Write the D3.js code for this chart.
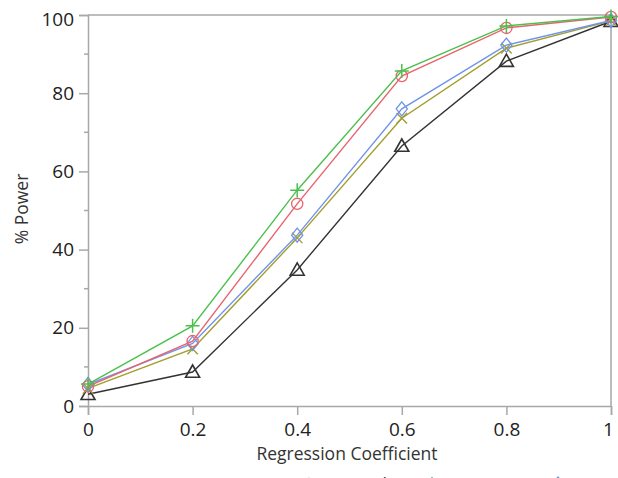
<!DOCTYPE html>
<html>
<head>
<meta charset="utf-8">
<script src="https://cdn.jsdelivr.net/npm/d3@7"></script>
<style>
  body { margin: 0; background: #fff; overflow: hidden; }
  text { font-family: "Open Sans", "Noto Sans", sans-serif; }
</style>
</head>
<body>
<svg id="chart" width="618" height="478"></svg>
<script>
// regression coefficient values on the x axis
const coefs = [0, 0.2, 0.4, 0.6, 0.8, 1];
const xTicks = [0, 0.2, 0.4, 0.6, 0.8, 1];
const yTicks = [0, 20, 40, 60, 80, 100];

// % power per method
const wilcoxon = [5.0, 16.6, 51.7, 84.4, 96.7, 99.5];
const lrt = [5.6, 20.5, 55.2, 85.7, 97.2, 99.6];
const score = [5.5, 16.0, 43.7, 76.0, 92.3, 98.6];
const wald = [4.5, 14.6, 43.0, 73.6, 91.5, 98.5];
const exact = [3.0, 8.7, 34.8, 66.5, 88.2, 98.4];

const series = [
    { name: 'Wilcoxon', values: wilcoxon, color: '#e8646e', shape: 'circle' },
    { name: 'LRT', values: lrt, color: '#4cc04c', shape: 'plus' },
    { name: 'Score', values: score, color: '#6f94ea', shape: 'diamond' },
    { name: 'Wald', values: wald, color: '#a39d2c', shape: 'x' },
    { name: 'Exact', values: exact, color: '#333333', shape: 'triangle' }
];

const svg = d3.select('#chart');
const m = { left: 88, right: 611, top: 15, bottom: 406 };

const x = d3.scaleLinear().domain([0, 1]).range([m.left, m.right]);
const y = d3.scaleLinear().domain([0, 100]).range([m.bottom, m.top]);

const axisColor = '#a8a8a8';

// frame (top and right edges)
svg.append('path')
    .attr('d', `M${m.left},${m.top}H${m.right}V${m.bottom}`)
    .attr('fill', 'none')
    .attr('stroke', axisColor)
    .attr('stroke-width', 1.5);

// y axis
const yAxis = svg.append('g').attr('transform', `translate(${m.left},0)`)
    .call(d3.axisLeft(y).tickValues(yTicks).tickSize(9).tickPadding(5).tickFormat(d3.format('d')));
// minor y ticks
svg.append('g').selectAll('line')
    .data(d3.range(10, 100, 20))
    .join('line')
    .attr('x1', m.left - 4).attr('x2', m.left)
    .attr('y1', (d) => y(d)).attr('y2', (d) => y(d))
    .attr('stroke', axisColor).attr('stroke-width', 1.5);

// x axis
const xAxis = svg.append('g').attr('transform', `translate(0,${m.bottom})`)
    .call(d3.axisBottom(x).tickValues(xTicks).tickSize(9).tickPadding(8).tickFormat((d) => String(d)));

[xAxis, yAxis].forEach((a) => {
    a.selectAll('.domain').attr('stroke', axisColor).attr('stroke-width', 1.5);
    a.selectAll('.tick line').attr('stroke', axisColor).attr('stroke-width', 1.5);
    a.selectAll('.tick text').attr('fill', '#222').style('font-size', '19px');
});
// the end labels are nudged inside the window, like the reference
yAxis.selectAll('.tick text').filter((d) => d === 100).attr('dy', '0.55em');
xAxis.selectAll('.tick text').filter((d) => d === 1).attr('dx', '-3');

// axis titles
svg.append('text')
    .attr('x', 347).attr('y', 460)
    .attr('text-anchor', 'middle')
    .attr('fill', '#333')
    .style('font-size', '17.5px')
    .text('Regression Coefficient');

svg.append('text')
    .attr('transform', 'translate(28,209) rotate(-90)')
    .attr('text-anchor', 'middle')
    .attr('fill', '#333')
    .style('font-size', '17.5px')
    .text('% Power');

// marker drawing
function marker(g, shape, color, size) {
    const s = size;
    if (shape === 'circle') {
        g.append('circle').attr('r', s * 0.8).attr('fill', 'none').attr('stroke', color).attr('stroke-width', 1.3);
    } else if (shape === 'plus') {
        g.append('path').attr('d', `M${-s},0H${s}M0,${-s}V${s}`).attr('stroke', color).attr('stroke-width', 1.5);
    } else if (shape === 'diamond') {
        g.append('path').attr('d', `M0,${-s}L${s * 0.8},0L0,${s}L${-s * 0.8},0Z`).attr('fill', 'none').attr('stroke', color).attr('stroke-width', 1.3);
    } else if (shape === 'x') {
        const k = s * 0.75;
        g.append('path').attr('d', `M${-k},${-k}L${k},${k}M${-k},${k}L${k},${-k}`).attr('stroke', color).attr('stroke-width', 1.4);
    } else if (shape === 'triangle') {
        g.append('path').attr('d', `M0,${-s}L${s},${s * 0.75}L${-s},${s * 0.75}Z`).attr('fill', 'none').attr('stroke', color).attr('stroke-width', 1.6);
    }
}

const line = d3.line().x((d, i) => x(coefs[i])).y((d) => y(d));

// draw back to front so the green/red sit on top like the reference
const order = ['Exact', 'Wald', 'Score', 'Wilcoxon', 'LRT'];
order.forEach((name) => {
    const s = series.find((d) => d.name === name);
    svg.append('path')
        .datum(s.values)
        .attr('d', line)
        .attr('fill', 'none')
        .attr('stroke', s.color)
        .attr('stroke-width', 1.4);
    s.values.forEach((v, i) => {
        const g = svg.append('g').attr('transform', `translate(${x(coefs[i])},${y(v)})`);
        marker(g, s.shape, s.color, 7);
    });
});

// legend (mostly below the visible area)
const legend = [
    { name: 'Wilcoxon', shape: 'circle', color: '#e8646e', mx: 309, tx: 362 },
    { name: 'LRT', shape: 'plus', color: '#4cc04c', mx: 432, tx: 490 },
    { name: 'Score', shape: 'diamond', color: '#6f94ea', mx: 558, tx: 614 }
];
legend.forEach((d) => {
    const g = svg.append('g').attr('transform', `translate(${d.mx},484)`);
    marker(g, d.shape, d.color, 7);
    svg.append('text')
        .attr('x', d.tx).attr('y', 491)
        .attr('fill', '#333')
        .style('font-size', '17.5px')
        .text(d.name);
});
</script>
</body>
</html>
